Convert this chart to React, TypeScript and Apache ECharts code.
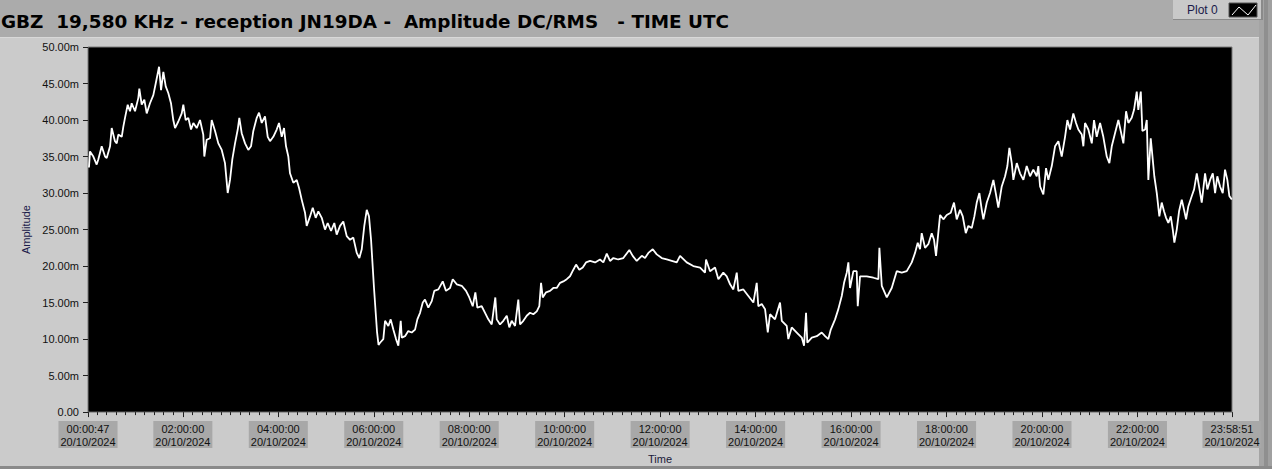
import React, { useEffect, useRef } from "react";
import * as echarts from "echarts";

// time of each sample, minutes after 00:00 UTC on 20/10/2024
const TIME_MIN = [
  2, 3.3, 7.5, 11.7, 13.7, 18.0, 22.2, 24.3, 28.5, 30.6, 34.7, 36.9, 38.9, 43.2, 45.2, 47.3, 50.7, 53.6, 55.7, 59.9,
  64.0, 65.3, 68.3, 71.6, 74.6, 78.7, 82.9, 85.9, 90.1, 92.6, 95.5, 98.5, 101.7, 105.1, 108.0, 110.2, 114.3, 118.6, 120.6, 123.6,
  126.9, 130.3, 133.2, 137.4, 141.6, 145.7, 147.0, 150.0, 154.2, 156.3, 160.5, 164.6, 168.9, 173.0, 176.4, 179.3, 182.2, 185.6, 189.0, 191.0,
  194.0, 198.2, 202.3, 205.7, 208.6, 212.9, 215.8, 219.2, 223.3, 226.7, 229.6, 233.7, 238.0, 240.9, 244.3, 247.2, 249.7, 252.6, 254.7, 258.9,
  263.2, 266.1, 269.4, 273.6, 275.7, 279.9, 283.3, 287.0, 290.3, 294.6, 298.7, 302.1, 306.3, 310.4, 313.4, 317.6, 321.7, 326.0, 330.2, 334.3,
  338.6, 341.9, 344.9, 348.1, 351.2, 354.0, 356.6, 360.3, 364.1, 366.0, 367.9, 372.0, 374.2, 378.3, 381.3, 384.6, 388.0, 390.9, 393.9, 395.2,
  399.3, 403.4, 407.7, 411.9, 414.8, 418.2, 421.6, 424.4, 428.6, 432.9, 436.1, 441.2, 446.7, 450.8, 455.9, 459.3, 464.3, 470.6, 476.0, 480.1,
  484.4, 487.7, 490.2, 495.7, 499.9, 504.0, 508.3, 512.8, 514.6, 518.7, 522.9, 527.2, 530.4, 533.4, 537.6, 541.7, 543.9, 548.0, 552.3, 556.4,
  560.6, 564.9, 568.1, 570.3, 572.4, 576.6, 581.6, 585.7, 590.0, 594.2, 598.3, 602.6, 606.7, 610.9, 614.3, 618.4, 622.7, 626.8, 631.9, 638.2,
  644.4, 648.6, 652.9, 657.0, 661.2, 667.4, 673.7, 681.3, 685.5, 690.6, 696.9, 701.0, 705.2, 710.7, 715.7, 722.0, 728.3, 734.6, 740.9, 745.0,
  753.4, 761.7, 770.2, 776.4, 777.7, 782.7, 789.0, 793.2, 799.4, 803.7, 807.9, 812.0, 816.3, 818.3, 824.6, 830.9, 837.2, 841.4, 843.4, 847.7,
  851.9, 855.3, 858.1, 864.4, 870.7, 872.9, 879.1, 881.1, 885.4, 891.7, 898.0, 900.9, 903.4, 905.0, 910.6, 916.9, 923.1, 927.3, 931.4, 934.5,
  939.9, 944.0, 948.3, 951.2, 954.6, 956.6, 958.7, 962.9, 967.1, 968.4, 971.3, 979.7, 988.0, 994.3, 995.6, 998.6, 1004.9, 1011.1, 1017.4, 1023.7,
  1030.0, 1036.3, 1040.4, 1043.8, 1046.7, 1048.8, 1053.0, 1057.1, 1061.4, 1064.3, 1066.8, 1071.9, 1076.0, 1080.3, 1085.3, 1089.4, 1092.8, 1097.0, 1100.4, 1104.2,
  1107.4, 1111.7, 1115.0, 1118.0, 1121.3, 1124.3, 1126.3, 1130.6, 1134.7, 1138.9, 1141.9, 1145.1, 1149.4, 1153.6, 1156.5, 1159.0, 1162.0, 1164.0, 1168.3, 1172.4,
  1176.6, 1180.8, 1185.0, 1189.1, 1193.4, 1195.4, 1197.6, 1201.7, 1205.1, 1208.0, 1212.3, 1216.4, 1220.6, 1224.8, 1229.0, 1231.9, 1235.3, 1239.4, 1242.8, 1245.7,
  1250.0, 1252.0, 1254.1, 1258.3, 1262.6, 1265.4, 1268.8, 1273.0, 1277.1, 1281.4, 1284.7, 1287.7, 1291.8, 1296.0, 1299.0, 1302.3, 1305.7, 1308.6, 1312.8, 1315.7,
  1319.1, 1321.1, 1324.2, 1326.2, 1329.6, 1331.7, 1333.7, 1336.7, 1339.2, 1341.2, 1344.3, 1347.5, 1350.5, 1353.4, 1356.0, 1358.8, 1361.9, 1364.4, 1366.4, 1369.4,
  1372.3, 1375.7, 1378.6, 1381.1, 1384.0, 1388.3, 1391.2, 1394.6, 1397.4, 1400.8, 1405.0, 1407.9, 1411.3, 1414.7, 1417.6, 1420.4, 1423.8, 1427.2, 1430.1, 1433.0,
  1435.5, 1438.6,
];

// amplitude, in milli-units (m)
const AMPLITUDE_M = [
  33.5, 35.7, 35.0, 33.9, 34.6, 36.4, 35.0, 34.8, 36.4, 38.9, 37.1, 36.8, 38.0, 37.7, 39.1, 40.3, 42.1, 41.2, 42.3, 41.2,
  43.0, 44.3, 42.1, 42.8, 40.9, 42.3, 43.4, 45.0, 47.3, 44.1, 46.6, 44.6, 43.7, 42.3, 40.0, 38.9, 39.8, 40.9, 42.1, 40.0,
  40.3, 38.7, 39.6, 38.9, 40.0, 38.0, 35.0, 37.3, 37.5, 40.0, 38.5, 36.8, 35.9, 34.1, 30.0, 31.8, 34.6, 36.8, 38.7, 40.3,
  38.2, 36.8, 35.9, 36.4, 38.5, 40.3, 41.0, 39.6, 40.5, 37.7, 37.1, 37.7, 38.7, 39.6, 37.7, 38.9, 36.4, 35.0, 32.7, 31.4,
  31.8, 30.7, 29.1, 27.3, 25.5, 26.8, 28.0, 26.6, 27.5, 26.6, 25.0, 25.9, 24.8, 25.9, 24.3, 25.5, 26.1, 24.1, 23.6, 23.9,
  21.8, 21.1, 22.3, 25.5, 27.7, 26.8, 23.6, 17.0, 11.0, 9.2, 9.5, 10.0, 12.5, 11.8, 12.7, 11.3, 10.0, 9.1, 12.5, 10.2,
  10.4, 11.1, 10.9, 11.3, 12.7, 13.6, 15.0, 15.4, 14.3, 15.2, 16.6, 16.8, 17.9, 16.6, 17.0, 18.2, 17.5, 17.3, 16.6, 15.7,
  14.5, 16.4, 14.3, 14.5, 13.6, 12.7, 12.0, 15.7, 12.7, 12.0, 12.5, 13.2, 11.6, 12.5, 11.8, 15.4, 12.0, 12.5, 13.2, 13.6,
  13.4, 13.8, 14.5, 17.7, 15.7, 16.4, 16.6, 17.0, 17.0, 17.7, 17.9, 18.2, 18.6, 19.5, 20.2, 19.5, 19.8, 20.5, 20.7, 20.5,
  20.9, 20.5, 21.7, 20.7, 21.1, 20.9, 21.1, 22.2, 21.4, 20.7, 21.4, 21.1, 21.8, 22.3, 21.6, 21.1, 20.9, 20.7, 20.5, 21.4,
  20.5, 20.0, 19.8, 19.1, 20.9, 19.3, 19.8, 18.2, 19.1, 18.6, 17.5, 16.8, 19.1, 16.6, 16.8, 15.9, 15.0, 17.7, 14.5, 14.8,
  14.1, 10.9, 13.4, 12.7, 15.0, 12.5, 11.8, 10.0, 11.6, 10.9, 10.2, 9.1, 13.6, 9.5, 10.2, 10.4, 10.9, 10.4, 10.0, 11.3,
  12.7, 14.1, 15.9, 17.7, 19.1, 20.5, 17.0, 19.3, 19.3, 14.5, 18.6, 18.6, 18.4, 18.2, 22.5, 17.3, 15.7, 17.0, 19.3, 19.1,
  19.3, 20.5, 21.8, 23.2, 22.3, 24.5, 22.5, 23.0, 24.5, 23.6, 21.4, 27.0, 26.4, 27.0, 27.3, 28.7, 26.4, 27.7, 26.8, 24.5,
  25.5, 25.2, 26.8, 28.7, 30.0, 27.7, 26.4, 28.7, 30.0, 31.8, 30.0, 28.0, 30.9, 32.3, 33.7, 36.2, 34.1, 31.8, 34.1, 32.7,
  31.8, 33.7, 32.3, 33.2, 32.3, 33.7, 30.9, 29.8, 33.4, 31.8, 33.7, 36.4, 37.1, 35.0, 37.7, 40.0, 38.7, 40.9, 39.6, 38.7,
  38.0, 36.4, 39.6, 38.7, 36.8, 40.0, 37.7, 39.6, 37.7, 35.0, 34.1, 36.4, 38.2, 40.0, 38.5, 36.8, 41.2, 39.6, 40.3, 41.4,
  43.9, 41.4, 43.9, 38.5, 38.7, 40.0, 31.8, 37.5, 34.6, 32.3, 30.0, 26.8, 28.7, 27.5, 26.6, 25.9, 26.8, 25.0, 23.2, 25.0,
  27.5, 29.1, 27.7, 26.4, 28.2, 29.6, 30.5, 32.7, 30.9, 28.7, 32.7, 30.5, 31.8, 32.7, 30.0, 32.3, 30.9, 30.0, 33.2, 31.8,
  29.6, 29.1,
];

// x axis labels (minutes) and their texts
const X_MIN = 47 / 60;
const X_MAX = 86331 / 60;
const X_LABEL_MINUTES = [X_MIN, 120, 240, 360, 480, 600, 720, 840, 960, 1080, 1200, 1320, X_MAX];
const X_LABEL_TIMES = [
  "00:00:47", "02:00:00", "04:00:00", "06:00:00", "08:00:00", "10:00:00", "12:00:00",
  "14:00:00", "16:00:00", "18:00:00", "20:00:00", "22:00:00", "23:58:51",
];
const DATE_LABEL = "20/10/2024";
const MINOR_TICK_STEP = 12; // minutes

const TITLE = "GBZ  19,580 KHz - reception JN19DA -  Amplitude DC/RMS   - TIME UTC";
const LEGEND_NAME = "Plot 0";

export default function App() {
  const ref = useRef<HTMLDivElement>(null);

  useEffect(() => {
    if (!ref.current) return;
    const chart = echarts.init(ref.current, null, { renderer: "svg" });
    const data = TIME_MIN.map((t, i) => [t, AMPLITUDE_M[i]]);
    const minorTicks: number[] = [];
    for (let m = MINOR_TICK_STEP; m < X_MAX; m += MINOR_TICK_STEP) {
      if (m % 120 !== 0) minorTicks.push(m);
    }
    const font = "Liberation Sans, Arial, sans-serif";
    chart.setOption({
      animation: false,
      backgroundColor: "#cbcbcb",
      textStyle: { fontFamily: font },
      graphic: [
        { type: "rect", z: -10, shape: { x: 0, y: 0, width: 1272, height: 37 }, style: { fill: "#ababab" } },
        { type: "rect", z: -10, shape: { x: 1259, y: 0, width: 5, height: 469 }, style: { fill: "#a4a4a4" } },
        { type: "rect", z: -10, shape: { x: 1264, y: 0, width: 4, height: 469 }, style: { fill: "#8f8f8f" } },
        { type: "rect", z: -10, shape: { x: 1268, y: 0, width: 4, height: 469 }, style: { fill: "#a0a0a0" } },
        { type: "rect", z: -9, shape: { x: 0, y: 466, width: 1272, height: 3 }, style: { fill: "#8a8a8a" } },
        { type: "rect", z: -9, shape: { x: 0, y: 37, width: 1259, height: 1 }, style: { fill: "#d8d8d8" } },
        {
          type: "text",
          z: 10,
          x: 1,
          y: 21,
          style: {
            text: TITLE,
            fill: "#000",
            font: "bold 18.4px DejaVu Sans, Verdana, sans-serif",
            verticalAlign: "middle",
          },
        },
        { type: "rect", z: 5, shape: { x: 1173, y: 0, width: 90, height: 20 }, style: { fill: "#8a8a8a" } },
        { type: "rect", z: 6, shape: { x: 1173, y: 0, width: 88, height: 19 }, style: { fill: "#c9c9c9" } },
        {
          type: "text",
          z: 7,
          x: 1187,
          y: 10,
          style: { text: LEGEND_NAME, fill: "#1a1a4a", font: "12px Liberation Sans, Arial, sans-serif", verticalAlign: "middle" },
        },
        { type: "rect", z: 7, shape: { x: 1229, y: 3, width: 28, height: 14 }, style: { fill: "#000", stroke: "#555", lineWidth: 1 } },
        {
          type: "polyline",
          z: 8,
          shape: { points: [[1232, 15], [1239, 7], [1248, 15], [1256, 5]] },
          style: { stroke: "#fff", lineWidth: 1, fill: "none" },
        },
      ],
      grid: {
        left: 88,
        top: 47,
        width: 1144,
        height: 366,
        show: true,
        backgroundColor: "#000",
        borderColor: "#7a7a7a",
        borderWidth: 1,
      },
      xAxis: [
        {
          type: "value",
          min: X_MIN,
          max: X_MAX,
          name: "Time",
          nameLocation: "middle",
          nameGap: 39,
          nameTextStyle: { fontSize: 11, color: "#1a1a3a", fontFamily: font },
          axisLine: { show: false },
          splitLine: { show: false },
          axisTick: {
            show: true,
            customValues: X_LABEL_MINUTES,
            length: 5,
            lineStyle: { color: "#202020" },
          },
          axisLabel: {
            customValues: X_LABEL_MINUTES,
            hideOverlap: false,
            showMinLabel: true,
            showMaxLabel: true,
            margin: 9,
            fontSize: 11,
            lineHeight: 13,
            color: "#111",
            fontFamily: font,
            backgroundColor: "#a8a8a8",
            padding: [1, 2, 0, 2],
            formatter: (v: number) => {
              let idx = 0;
              let best = Infinity;
              X_LABEL_MINUTES.forEach((m, i) => {
                const d = Math.abs(m - v);
                if (d < best) {
                  best = d;
                  idx = i;
                }
              });
              return X_LABEL_TIMES[idx] + "\n" + DATE_LABEL;
            },
          },
        },
        {
          type: "value",
          min: X_MIN,
          max: X_MAX,
          position: "bottom",
          axisLine: { show: false },
          splitLine: { show: false },
          axisLabel: { show: false },
          axisTick: {
            show: true,
            customValues: minorTicks,
            length: 3,
            lineStyle: { color: "#202020" },
          },
        },
      ],
      yAxis: {
        type: "value",
        min: 0,
        max: 50,
        interval: 5,
        name: "Amplitude",
        nameLocation: "middle",
        nameGap: 52,
        nameTextStyle: { fontSize: 11, color: "#1a1a4a", fontFamily: font },
        axisLine: { show: false },
        splitLine: { show: false },
        axisTick: { show: true, length: 5, lineStyle: { color: "#202020" } },
        axisLabel: {
          margin: 9,
          fontSize: 11,
          color: "#111",
          fontFamily: font,
          formatter: (v: number) => (v === 0 ? "0.00" : v.toFixed(2) + "m"),
        },
      },
      series: [
        {
          name: LEGEND_NAME,
          type: "line",
          xAxisIndex: 0,
          data,
          showSymbol: false,
          symbol: "none",
          lineStyle: { color: "#ffffff", width: 1.8 },
          clip: true,
        },
      ],
    });
    return () => chart.dispose();
  }, []);

  return (
    <div
      ref={ref}
      style={{ position: "fixed", left: 0, top: 0, width: 1272, height: 469 }}
    />
  );
}
